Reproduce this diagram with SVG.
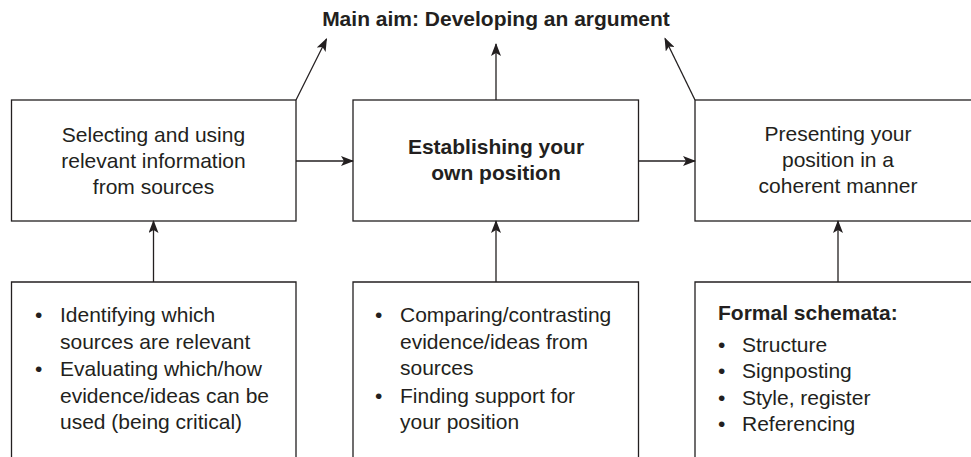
<svg xmlns="http://www.w3.org/2000/svg" width="971" height="457" viewBox="0 0 971 457">
<style>
  .box { fill: #fff; stroke: #231f20; stroke-width: 1.3; }
  .con { fill: none; stroke: #231f20; stroke-width: 1.3; marker-end: url(#ah); }
  text { font-family: "Liberation Sans", Arial, sans-serif; font-size: 21px; fill: #231f20; }
  .c { text-anchor: middle; }
  .b { font-weight: bold; }
</style>
<defs>
  <marker id="ah" markerUnits="userSpaceOnUse" markerWidth="14" markerHeight="10" refX="12" refY="5" orient="auto">
    <path d="M0,0 L13,5 L0,10 L3,5 Z" fill="#231f20"/>
  </marker>
</defs>
<rect width="971" height="457" fill="#fff"/>
<text id="title" class="c b" x="496" y="26">Main aim: Developing an argument</text>

<g id="n-select">
  <rect class="box" x="11.5" y="100" width="284.5" height="121"/>
  <text class="c" x="153.5" y="142">Selecting and using</text>
  <text class="c" x="153.5" y="168">relevant information</text>
  <text class="c" x="153.5" y="194">from sources</text>
</g>
<g id="n-establish">
  <rect class="box" x="353" y="100" width="285.5" height="121"/>
  <text class="c b" x="496" y="154">Establishing your</text>
  <text class="c b" x="496" y="180">own position</text>
</g>
<g id="n-present">
  <rect class="box" x="695" y="100" width="300" height="121"/>
  <text class="c" x="838" y="141">Presenting your</text>
  <text class="c" x="838" y="167">position in a</text>
  <text class="c" x="838" y="193">coherent manner</text>
</g>

<g id="n-identify">
  <path class="box" d="M11.5,460 V282 H296 V460"/>
  <text x="35" y="322">•</text><text x="60" y="322">Identifying which</text>
  <text x="60" y="348.5">sources are relevant</text>
  <text x="35" y="375.5">•</text><text x="60" y="375.5">Evaluating which/how</text>
  <text x="60" y="402.5">evidence/ideas can be</text>
  <text x="60" y="429">used (being critical)</text>
</g>
<g id="n-compare">
  <path class="box" d="M353,460 V282 H638.5 V460"/>
  <text x="375" y="322">•</text><text x="400" y="322">Comparing/contrasting</text>
  <text x="400" y="348.5">evidence/ideas from</text>
  <text x="400" y="375">sources</text>
  <text x="375" y="402.5">•</text><text x="400" y="402.5">Finding support for</text>
  <text x="400" y="429">your position</text>
</g>
<g id="n-formal">
  <path class="box" d="M695,460 V282 H995"/>
  <text class="b" x="718" y="320">Formal schemata:</text>
  <text x="718" y="351.5">•</text><text x="742" y="351.5">Structure</text>
  <text x="718" y="378">•</text><text x="742" y="378">Signposting</text>
  <text x="718" y="404.5">•</text><text x="742" y="404.5">Style, register</text>
  <text x="718" y="431">•</text><text x="742" y="431">Referencing</text>
</g>

<g id="connectors">
  <line class="con" x1="296" y1="161" x2="353" y2="161"/>
  <line class="con" x1="638.5" y1="161" x2="695" y2="161"/>
  <line class="con" x1="153.5" y1="282" x2="153.5" y2="221"/>
  <line class="con" x1="496" y1="282" x2="496" y2="221"/>
  <line class="con" x1="838" y1="282" x2="838" y2="221"/>
  <line class="con" x1="296" y1="100" x2="326.5" y2="39"/>
  <line class="con" x1="496" y1="100" x2="496" y2="44"/>
  <line class="con" x1="695" y1="100" x2="665" y2="38.5"/>
</g>
</svg>
